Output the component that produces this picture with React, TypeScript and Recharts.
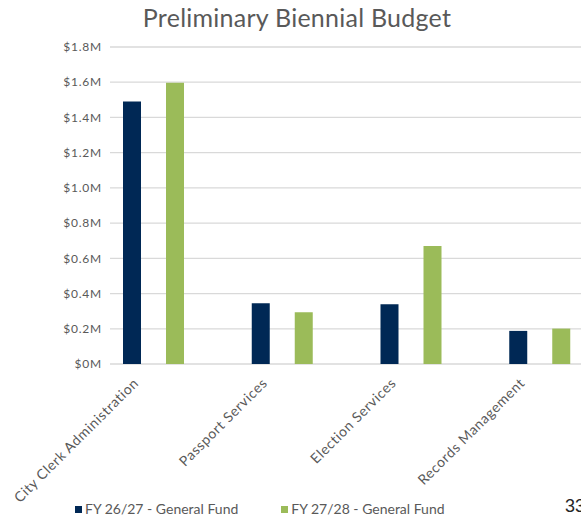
import { BarChart, Bar, XAxis, YAxis, CartesianGrid, Legend } from "recharts";

const categories = [
  "City Clerk Administration",
  "Passport Services",
  "Election Services",
  "Records Management",
];
const fy2627 = [1490000, 345000, 339000, 188000];
const fy2728 = [1597000, 294000, 670000, 201000];
const yTicks = [0, 200000, 400000, 600000, 800000, 1000000, 1200000, 1400000, 1600000, 1800000];

const seriesNames = ["FY 26/27 - General Fund", "FY 27/28 - General Fund"];
const NAVY = "#002855";
const GREEN = "#9bbb59";
const TEXT = "#595959";
const FONT = "Lato, sans-serif";

const data = categories.map((name, i) => ({ name, fy2627: fy2627[i], fy2728: fy2728[i] }));

function formatMoney(v: number): string {
  if (v === 0) return "$0M";
  return `$${(v / 1000000).toFixed(1)}M`;
}

interface TickProps {
  x?: number;
  y?: number;
  payload?: { value: string };
}

function CategoryTick({ x = 0, y = 0, payload }: TickProps) {
  const ax = x - 14;
  const ay = y + 12;
  return (
    <text
      x={ax}
      y={ay}
      textAnchor="end"
      transform={`rotate(-45, ${ax}, ${ay})`}
      fill={TEXT}
      fontSize={14}
      fontFamily={FONT}
      letterSpacing={0.6}
    >
      {payload?.value}
    </text>
  );
}

function LegendContent() {
  const colors = [NAVY, GREEN];
  return (
    <div style={{ display: "flex", fontFamily: FONT, fontSize: 14, color: TEXT, lineHeight: "18px" }}>
      {seriesNames.map((n, i) => (
        <div key={n} style={{ display: "flex", alignItems: "center", marginRight: 43 }}>
          <span style={{ width: 7, height: 7, background: colors[i], marginRight: 3, marginTop: 1 }} />
          <span>{n}</span>
        </div>
      ))}
    </div>
  );
}

export default function App() {
  return (
    <div
      style={{
        position: "absolute",
        left: 0,
        top: 0,
        width: 581,
        height: 520,
        overflow: "hidden",
        background: "#fff",
      }}
    >
      <div
        style={{
          position: "absolute",
          left: 0,
          top: 2,
          width: 594,
          textAlign: "center",
          fontFamily: FONT,
          fontSize: 25,
          lineHeight: "30px",
          letterSpacing: 0.25,
          color: TEXT,
        }}
      >
        Preliminary Biennial Budget
      </div>
      <BarChart
        width={620}
        height={520}
        data={data}
        margin={{ top: 47, right: 16, bottom: 126, left: 0 }}
        barCategoryGap={34}
        barGap={25}
      >
        <CartesianGrid vertical={false} stroke="#d9d9d9" strokeWidth={1.3} />
        <XAxis
          dataKey="name"
          axisLine={false}
          tickLine={false}
          interval={0}
          height={30}
          padding={{ left: -21, right: 0 }}
          tick={<CategoryTick />}
        />
        <YAxis
          width={110}
          domain={[0, 1800000]}
          ticks={yTicks}
          axisLine={false}
          tickLine={false}
          tickFormatter={formatMoney}
          tick={{ fill: TEXT, fontSize: 12, fontFamily: FONT, letterSpacing: 0.8 }}
        />
        <Legend
          layout="horizontal"
          verticalAlign="middle"
          wrapperStyle={{ top: 500, left: 75, width: 420 }}
          content={<LegendContent />}
        />
        <Bar dataKey="fy2627" name={seriesNames[0]} fill={NAVY} isAnimationActive={false} />
        <Bar dataKey="fy2728" name={seriesNames[1]} fill={GREEN} isAnimationActive={false} />
      </BarChart>
      <div
        style={{
          position: "absolute",
          left: 565,
          top: 496,
          fontFamily: "'Liberation Sans', sans-serif",
          fontSize: 18,
          lineHeight: "20px",
          color: "#262626",
          whiteSpace: "nowrap",
        }}
      >
        33
      </div>
    </div>
  );
}
